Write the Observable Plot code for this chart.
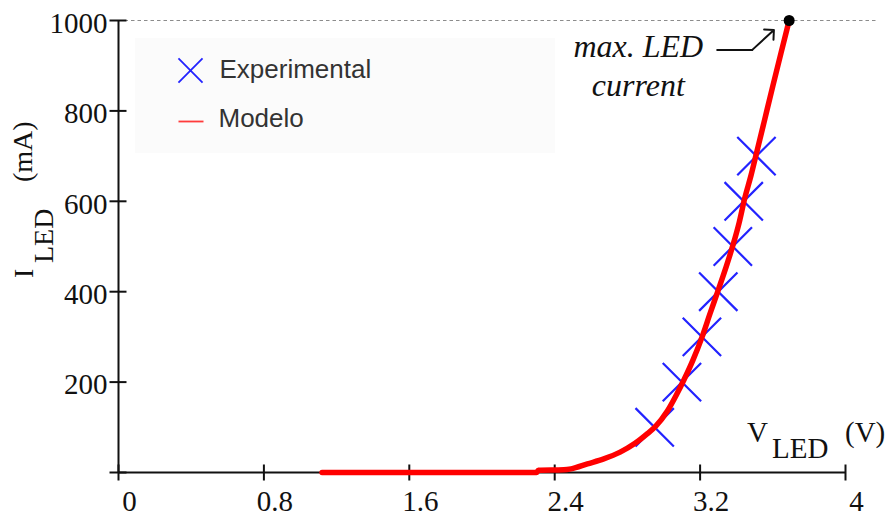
<!DOCTYPE html>
<html>
<head>
<meta charset="utf-8">
<script src="https://cdn.jsdelivr.net/npm/d3@7"></script>
<script src="https://cdn.jsdelivr.net/npm/@observablehq/plot@0.6"></script>
<style>
  body { margin: 0; background: #fff; }
  #chart svg { display: block; }
</style>
</head>
<body>
<div id="chart"></div>
<script>
// ---- data ----
const xTicks = [0, 0.8, 1.6, 2.4, 3.2, 4];
const xTickLabels = ["0", "0.8", "1.6", "2.4", "3.2", "4"];
const yTicks = [0, 200, 400, 600, 800, 1000];
const yTickLabels = ["", "200", "400", "600", "800", "1000"];

// Experimental measurements (V, mA)
const expV = [2.95, 3.10, 3.21, 3.30, 3.38, 3.44, 3.51];
const expI = [100, 200, 300, 400, 500, 600, 700];

// Model curve (V, mA)
const modelV = [1.12, 2.30, 2.31, 2.45, 2.49, 2.58, 2.67, 2.76, 2.84, 2.91, 2.955, 3.02, 3.07, 3.11, 3.16, 3.21, 3.255, 3.295, 3.34, 3.38, 3.415, 3.445, 3.48, 3.51, 3.55, 3.60, 3.645, 3.69];
const modelI = [0, 0, 5, 6, 8, 19, 30, 45, 64, 86, 102, 136, 172, 204, 248, 299, 352, 398, 451, 502, 553, 606, 657, 706, 772, 855, 928, 1000];

// maximum LED current marker
const maxV = 3.69;
const maxI = 1000;
const refLineEnd = 4.18;

// annotation
const annotationText = "max. LED\ncurrent";
const annotationV = 2.86;
const annotationI = 834;
const arrowV = [3.294, 3.487, 3.606];
const arrowI = [935, 935, 979];

const legendLabels = ["Experimental", "Modelo"];

// ---- tables ----
const experimental = expV.map((v, i) => ({v, i: expI[i]}));
const model = modelV.map((v, i) => ({v, i: modelI[i]}));
const arrowPath = arrowV.map((v, k) => ({v, i: arrowI[k]}));

// custom tick symbols (crossing the axis)
const hTick = {draw(c) { c.moveTo(-9, 0); c.lineTo(8, 0); }};
const vTick = {draw(c) { c.moveTo(0, -8); c.lineTo(0, 8); }};
const hLine = {draw(c) { c.moveTo(-12.5, 0); c.lineTo(12.5, 0); }};

const serif = "Liberation Serif, Times New Roman, serif";
const sans = "Liberation Sans, Arial, sans-serif";
const blue = "#2323ff";
const red = "#ff0000";

const plot = Plot.plot({
  width: 888,
  height: 516,
  marginLeft: 118,
  marginRight: 43,
  marginTop: 20,
  marginBottom: 44,
  x: {domain: [0, 4]},
  y: {domain: [0, 1000]},
  style: {fontFamily: serif, fontSize: "29px", color: "#111", background: "#fff"},
  marks: [
    Plot.ruleY([maxI], {x1: 0, x2: refLineEnd, stroke: "#8c8c8c", strokeWidth: 1.2, strokeDasharray: "3.5,3"}),
    Plot.ruleX([0], {y1: 0, y2: 1000, stroke: "#111", strokeWidth: 2}),
    Plot.ruleY([0], {x1: 0, x2: 4, stroke: "#111", strokeWidth: 2}),
    Plot.dot(yTicks, {x: 0, y: d => d, symbol: hTick, r: 5, fill: "none", stroke: "#111", strokeWidth: 2}),
    Plot.dot(xTicks, {x: d => d, y: 0, symbol: vTick, r: 5, fill: "none", stroke: "#111", strokeWidth: 2}),
    Plot.axisY(yTicks.filter(d => d > 0), {
      tickSize: 0, tickPadding: 11, dy: 3, fontSize: 29, label: null,
      tickFormat: d => yTickLabels[yTicks.indexOf(d)]
    }),
    Plot.axisX(xTicks, {
      tickSize: 0, tickPadding: 18, dx: 11, fontSize: 29, label: null,
      tickFormat: d => xTickLabels[xTicks.indexOf(d)]
    }),
    Plot.dot(experimental, {x: "v", y: "i", symbol: "times", r: 17.5, stroke: blue, strokeWidth: 2.2}),
    Plot.line(model, {x: "v", y: "i", stroke: red, strokeWidth: 5.5, curve: "monotone-x"}),
    Plot.dot([{v: maxV, i: maxI}], {x: "v", y: "i", r: 5.5, fill: "#000"}),
    Plot.line(arrowPath.slice(0, 2), {x: "v", y: "i", stroke: "#111", strokeWidth: 2}),
    Plot.arrow([0], {
      x1: () => arrowV[1], y1: () => arrowI[1], x2: () => arrowV[2], y2: () => arrowI[2],
      stroke: "#111", strokeWidth: 2, headAngle: 90, headLength: 14
    }),
    Plot.text([annotationText], {
      x: () => annotationV, y: () => annotationI, text: d => d,
      fontSize: 32, fontStyle: "italic", fontFamily: serif, fill: "#111",
      lineAnchor: "bottom", lineHeight: 1.19, textAnchor: "middle"
    }),
    // legend
    Plot.dot([0], {frameAnchor: "top-left", dx: 72, dy: 50, symbol: "times", r: 11, stroke: blue, strokeWidth: 1.8}),
    Plot.dot([0], {frameAnchor: "top-left", dx: 72.5, dy: 101, symbol: hLine, r: 5, fill: "none", stroke: "#ff3b3b", strokeWidth: 1.8}),
    Plot.text([legendLabels[0]], {frameAnchor: "top-left", dx: 101, dy: 57, text: d => d, textAnchor: "start", lineAnchor: "bottom", fontFamily: sans, fontSize: 26, fill: "#333"}),
    Plot.text([legendLabels[1]], {frameAnchor: "top-left", dx: 100, dy: 106, text: d => d, textAnchor: "start", lineAnchor: "bottom", fontFamily: sans, fontSize: 26, fill: "#333"})
  ]
});

document.getElementById("chart").appendChild(plot);

const svg = d3.select(plot);

// very faint legend background panel, placed beneath all marks
svg.insert("rect", ":first-child")
  .attr("x", 135).attr("y", 38).attr("width", 420).attr("height", 115)
  .attr("fill", "#fbfbfb");

// axis titles with subscripts
const ylab = svg.append("g")
  .attr("font-family", serif).attr("font-size", 28).attr("fill", "#111")
  .attr("text-anchor", "start");
ylab.append("text").attr("text-anchor", "start").attr("transform", "translate(33,278) rotate(-90)").text("I");
ylab.append("text").attr("text-anchor", "start").attr("transform", "translate(53,263) rotate(-90)").text("LED");
ylab.append("text").attr("text-anchor", "start").attr("transform", "translate(32,182) rotate(-90)").text("(mA)");

const xlab = svg.append("g")
  .attr("font-family", serif).attr("font-size", 29).attr("fill", "#111")
  .attr("text-anchor", "start");
xlab.append("text").attr("text-anchor", "start").attr("x", 747).attr("y", 442).text("V");
xlab.append("text").attr("text-anchor", "start").attr("x", 772).attr("y", 458).text("LED");
xlab.append("text").attr("text-anchor", "start").attr("x", 845).attr("y", 442).text("(V)");
</script>
</body>
</html>
